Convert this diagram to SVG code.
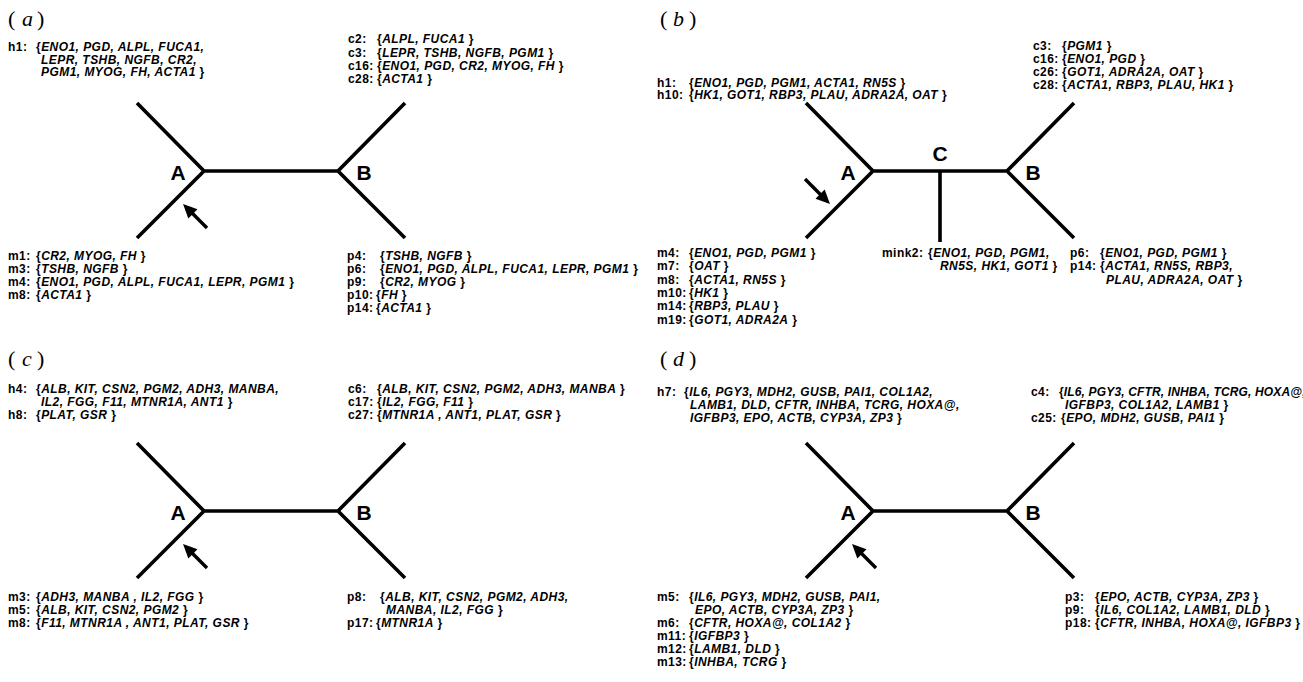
<svg xmlns="http://www.w3.org/2000/svg" width="1303" height="682" viewBox="0 0 1303 682">
<defs>
<style>
.t{font-family:"Liberation Sans",Arial,Helvetica,sans-serif;font-size:12px;font-weight:bold;letter-spacing:0.45px;fill:#000}
.i{font-style:italic}
.nd{font-family:"Liberation Sans",Arial,Helvetica,sans-serif;font-size:21px;font-weight:bold;text-anchor:middle;fill:#000}
.ttl{font-family:"Liberation Serif","Times New Roman",serif;font-size:22px;fill:#000}
.edge{fill:none;stroke:#000;stroke-width:3.6;stroke-linejoin:miter;stroke-linecap:butt}
.arr{fill:none;stroke:#000;stroke-width:3.4;marker-end:url(#ah)}
</style>
<marker id="ah" markerUnits="userSpaceOnUse" markerWidth="16" markerHeight="14" refX="3" refY="6.5" orient="auto" overflow="visible">
<path d="M0,0 L14,6.5 L0,13 Z" fill="#000"/>
</marker>
</defs>
<rect width="1303" height="682" fill="#fff"/>

<g id="connectors">
<path class="edge" d="M137,103 L204,171 L137,238 M204,171 L338,171 M405,103 L338,171 L405,238"/>
<path class="edge" d="M806,103 L873,171 L806,238 M873,171 L1007,171 M1074,103 L1007,171 L1074,238 M940,171 L940,242"/>
<path class="edge" d="M137,443 L204,511 L137,578 M204,511 L338,511 M405,443 L338,511 L405,578"/>
<path class="edge" d="M806,443 L873,511 L806,578 M873,511 L1007,511 M1074,443 L1007,511 L1074,578"/>
<line class="arr" x1="207" y1="228" x2="190.8" y2="211.8"/>
<line class="arr" x1="805" y1="179" x2="822.2" y2="196.2"/>
<line class="arr" x1="207" y1="568" x2="190.8" y2="551.8"/>
<line class="arr" x1="876" y1="568" x2="859.8" y2="551.8"/>
</g>

<!-- Panel a -->
<g id="panel-a">
<text class="ttl" y="26"><tspan x="8">(</tspan><tspan x="22" font-style="italic">a</tspan><tspan x="37">)</tspan></text>
<g id="a-node-A"><text class="nd" x="178" y="180">A</text></g>
<g id="a-node-B"><text class="nd" x="364" y="180">B</text></g>
<g id="a-h">
<text class="t" x="8" y="51">h1:</text>
<text class="t" x="36" y="51">{<tspan class="i">ENO1, PGD, ALPL, FUCA1,</tspan></text>
<text class="t" x="41" y="63.5"><tspan class="i">LEPR, TSHB, NGFB, CR2,</tspan></text>
<text class="t" x="41" y="76"><tspan class="i">PGM1, MYOG, FH, ACTA1</tspan> }</text>
</g>
<g id="a-c">
<text class="t" x="348" y="43">c2:</text><text class="t" x="377" y="43">{<tspan class="i">ALPL, FUCA1</tspan> }</text>
<text class="t" x="348" y="56.5">c3:</text><text class="t" x="377" y="56.5">{<tspan class="i">LEPR, TSHB, NGFB, PGM1</tspan> }</text>
<text class="t" x="348" y="70">c16:</text><text class="t" x="377" y="70">{<tspan class="i">ENO1, PGD, CR2, MYOG, FH</tspan> }</text>
<text class="t" x="348" y="83">c28:</text><text class="t" x="377" y="83">{<tspan class="i">ACTA1</tspan> }</text>
</g>
<g id="a-m">
<text class="t" x="8" y="260">m1:</text><text class="t" x="36" y="260">{<tspan class="i">CR2, MYOG, FH</tspan> }</text>
<text class="t" x="8" y="273">m3:</text><text class="t" x="36" y="273">{<tspan class="i">TSHB, NGFB</tspan> }</text>
<text class="t" x="8" y="286">m4:</text><text class="t" x="36" y="286">{<tspan class="i">ENO1, PGD, ALPL, FUCA1, LEPR, PGM1</tspan> }</text>
<text class="t" x="8" y="299">m8:</text><text class="t" x="36" y="299">{<tspan class="i">ACTA1</tspan> }</text>
</g>
<g id="a-p">
<text class="t" x="347" y="260">p4:</text><text class="t" x="380" y="260">{<tspan class="i">TSHB, NGFB</tspan> }</text>
<text class="t" x="347" y="273">p6:</text><text class="t" x="380" y="273">{<tspan class="i">ENO1, PGD, ALPL, FUCA1, LEPR, PGM1</tspan> }</text>
<text class="t" x="347" y="286">p9:</text><text class="t" x="380" y="286">{<tspan class="i">CR2, MYOG</tspan> }</text>
<text class="t" x="347" y="299">p10:</text><text class="t" x="376" y="299">{<tspan class="i">FH</tspan> }</text>
<text class="t" x="347" y="312">p14:</text><text class="t" x="376" y="312">{<tspan class="i">ACTA1</tspan> }</text>
</g>
</g>

<!-- Panel b -->
<g id="panel-b">
<text class="ttl" y="26"><tspan x="660">(</tspan><tspan x="673" font-style="italic">b</tspan><tspan x="689">)</tspan></text>
<g id="b-node-A"><text class="nd" x="848" y="180">A</text></g>
<g id="b-node-C"><text class="nd" x="940" y="161">C</text></g>
<g id="b-node-B"><text class="nd" x="1033" y="180">B</text></g>
<g id="b-h">
<text class="t" x="657" y="86.5">h1:</text><text class="t" x="689" y="86.5">{<tspan class="i">ENO1, PGD, PGM1, ACTA1, RN5S</tspan> }</text>
<text class="t" x="657" y="99">h10:</text><text class="t" x="689" y="99">{<tspan class="i">HK1, GOT1, RBP3, PLAU, ADRA2A, OAT</tspan> }</text>
</g>
<g id="b-c">
<text class="t" x="1033" y="50">c3:</text><text class="t" x="1062" y="50">{<tspan class="i">PGM1</tspan> }</text>
<text class="t" x="1033" y="63">c16:</text><text class="t" x="1062" y="63">{<tspan class="i">ENO1, PGD</tspan> }</text>
<text class="t" x="1033" y="76">c26:</text><text class="t" x="1062" y="76">{<tspan class="i">GOT1, ADRA2A, OAT</tspan> }</text>
<text class="t" x="1033" y="89">c28:</text><text class="t" x="1062" y="89">{<tspan class="i">ACTA1, RBP3, PLAU, HK1</tspan> }</text>
</g>
<g id="b-m">
<text class="t" x="657" y="257">m4:</text><text class="t" x="689" y="257">{<tspan class="i">ENO1, PGD, PGM1</tspan> }</text>
<text class="t" x="657" y="270">m7:</text><text class="t" x="689" y="270">{<tspan class="i">OAT</tspan> }</text>
<text class="t" x="657" y="283.5">m8:</text><text class="t" x="689" y="283.5">{<tspan class="i">ACTA1, RN5S</tspan> }</text>
<text class="t" x="657" y="297">m10:</text><text class="t" x="689" y="297">{<tspan class="i">HK1</tspan> }</text>
<text class="t" x="657" y="310">m14:</text><text class="t" x="689" y="310">{<tspan class="i">RBP3, PLAU</tspan> }</text>
<text class="t" x="657" y="323.5">m19:</text><text class="t" x="689" y="323.5">{<tspan class="i">GOT1, ADRA2A</tspan> }</text>
</g>
<g id="b-mink">
<text class="t" x="882" y="257">mink2:</text><text class="t" x="928" y="257">{<tspan class="i">ENO1, PGD, PGM1,</tspan></text>
<text class="t" x="940" y="270"><tspan class="i">RN5S, HK1, GOT1</tspan> }</text>
</g>
<g id="b-p">
<text class="t" x="1070" y="257">p6:</text><text class="t" x="1100" y="257">{<tspan class="i">ENO1, PGD, PGM1</tspan> }</text>
<text class="t" x="1070" y="270">p14:</text><text class="t" x="1100" y="270">{<tspan class="i">ACTA1, RN5S, RBP3,</tspan></text>
<text class="t" x="1106" y="283.5"><tspan class="i">PLAU, ADRA2A, OAT</tspan> }</text>
</g>
</g>

<!-- Panel c -->
<g id="panel-c">
<text class="ttl" y="366"><tspan x="8">(</tspan><tspan x="22" font-style="italic">c</tspan><tspan x="37">)</tspan></text>
<g id="c-node-A"><text class="nd" x="178" y="520">A</text></g>
<g id="c-node-B"><text class="nd" x="364" y="520">B</text></g>
<g id="c-h">
<text class="t" x="8" y="393">h4:</text><text class="t" x="36" y="393">{<tspan class="i">ALB, KIT, CSN2, PGM2, ADH3, MANBA,</tspan></text>
<text class="t" x="41" y="406"><tspan class="i">IL2, FGG, F11, MTNR1A, ANT1</tspan> }</text>
<text class="t" x="8" y="419">h8:</text><text class="t" x="36" y="419">{<tspan class="i">PLAT, GSR</tspan> }</text>
</g>
<g id="c-c">
<text class="t" x="348" y="393">c6:</text><text class="t" x="377" y="393">{<tspan class="i">ALB, KIT, CSN2, PGM2, ADH3, MANBA</tspan> }</text>
<text class="t" x="348" y="406">c17:</text><text class="t" x="377" y="406">{<tspan class="i">IL2, FGG, F11</tspan> }</text>
<text class="t" x="348" y="419">c27:</text><text class="t" x="377" y="419">{<tspan class="i">MTNR1A , ANT1, PLAT, GSR</tspan> }</text>
</g>
<g id="c-m">
<text class="t" x="8" y="601">m3:</text><text class="t" x="36" y="601">{<tspan class="i">ADH3, MANBA , IL2, FGG</tspan> }</text>
<text class="t" x="8" y="614">m5:</text><text class="t" x="36" y="614">{<tspan class="i">ALB, KIT, CSN2, PGM2</tspan> }</text>
<text class="t" x="8" y="627">m8:</text><text class="t" x="36" y="627">{<tspan class="i">F11, MTNR1A , ANT1, PLAT, GSR</tspan> }</text>
</g>
<g id="c-p">
<text class="t" x="347" y="601">p8:</text><text class="t" x="380" y="601">{<tspan class="i">ALB, KIT, CSN2, PGM2, ADH3,</tspan></text>
<text class="t" x="386" y="614"><tspan class="i">MANBA, IL2, FGG</tspan> }</text>
<text class="t" x="347" y="627">p17:</text><text class="t" x="376" y="627">{<tspan class="i">MTNR1A</tspan> }</text>
</g>
</g>

<!-- Panel d -->
<g id="panel-d">
<text class="ttl" y="366"><tspan x="660">(</tspan><tspan x="673" font-style="italic">d</tspan><tspan x="689">)</tspan></text>
<g id="d-node-A"><text class="nd" x="848" y="520">A</text></g>
<g id="d-node-B"><text class="nd" x="1033" y="520">B</text></g>
<g id="d-h">
<text class="t" x="657" y="396">h7:</text><text class="t" x="684" y="396">{<tspan class="i">IL6, PGY3, MDH2, GUSB, PAI1, COL1A2,</tspan></text>
<text class="t" x="690" y="409"><tspan class="i">LAMB1, DLD, CFTR, INHBA, TCRG, HOXA@,</tspan></text>
<text class="t" x="690" y="422"><tspan class="i">IGFBP3, EPO, ACTB, CYP3A, ZP3</tspan> }</text>
</g>
<g id="d-c">
<text class="t" x="1031" y="396">c4:</text><text class="t" x="1059" y="396" style="letter-spacing:0.15px">{<tspan class="i">IL6, PGY3, CFTR, INHBA, TCRG, HOXA@,</tspan></text>
<text class="t" x="1065" y="409"><tspan class="i">IGFBP3, COL1A2, LAMB1</tspan> }</text>
<text class="t" x="1031" y="422">c25:</text><text class="t" x="1061" y="422">{<tspan class="i">EPO, MDH2, GUSB, PAI1</tspan> }</text>
</g>
<g id="d-m">
<text class="t" x="657" y="601">m5:</text><text class="t" x="689" y="601">{<tspan class="i">IL6, PGY3, MDH2, GUSB, PAI1,</tspan></text>
<text class="t" x="695" y="614"><tspan class="i">EPO, ACTB, CYP3A, ZP3</tspan> }</text>
<text class="t" x="657" y="627">m6:</text><text class="t" x="689" y="627">{<tspan class="i">CFTR, HOXA@, COL1A2</tspan> }</text>
<text class="t" x="657" y="640">m11:</text><text class="t" x="689" y="640">{<tspan class="i">IGFBP3</tspan> }</text>
<text class="t" x="657" y="653">m12:</text><text class="t" x="689" y="653">{<tspan class="i">LAMB1, DLD</tspan> }</text>
<text class="t" x="657" y="666">m13:</text><text class="t" x="689" y="666">{<tspan class="i">INHBA, TCRG</tspan> }</text>
</g>
<g id="d-p">
<text class="t" x="1065" y="601">p3:</text><text class="t" x="1095" y="601">{<tspan class="i">EPO, ACTB, CYP3A, ZP3</tspan> }</text>
<text class="t" x="1065" y="614">p9:</text><text class="t" x="1095" y="614">{<tspan class="i">IL6, COL1A2, LAMB1, DLD</tspan> }</text>
<text class="t" x="1065" y="627">p18:</text><text class="t" x="1095" y="627">{<tspan class="i">CFTR, INHBA, HOXA@, IGFBP3</tspan> }</text>
</g>
</g>
</svg>
